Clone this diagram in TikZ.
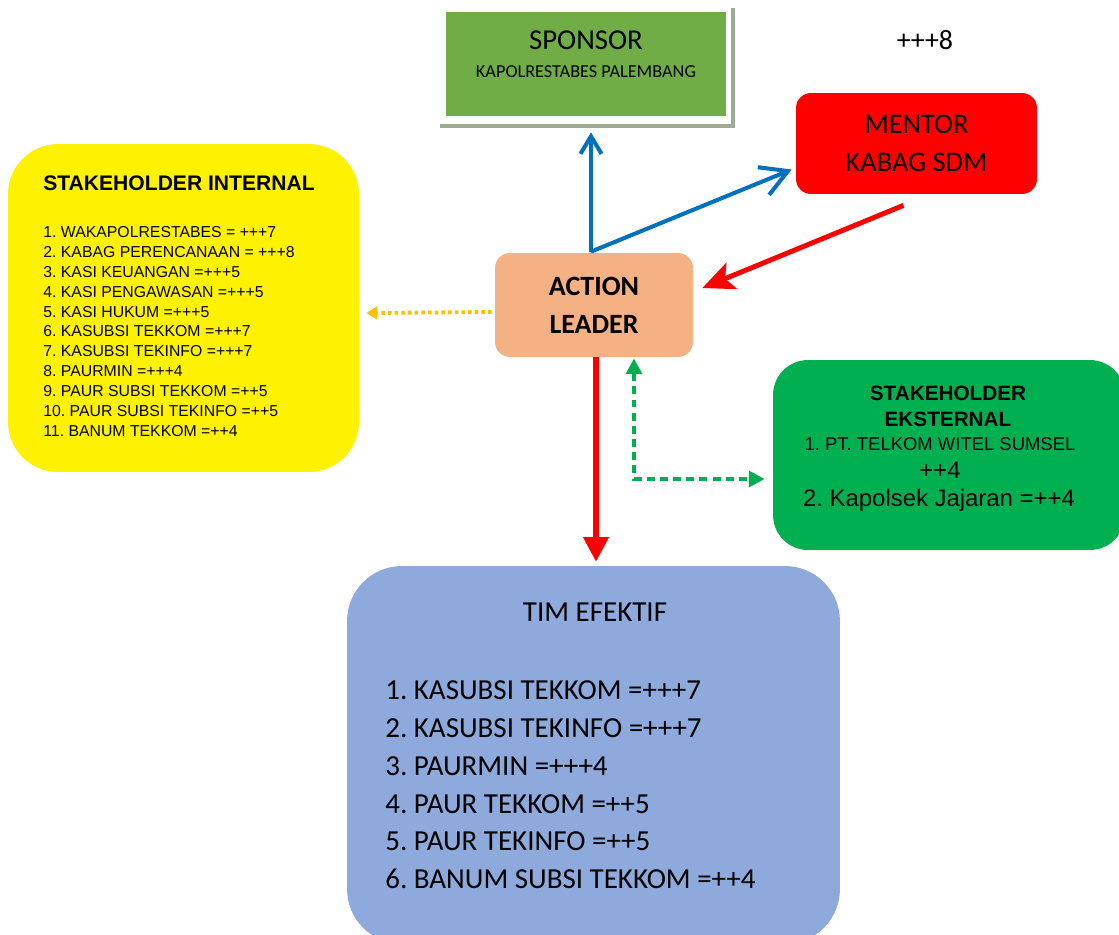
\documentclass[tikz,border=0pt]{standalone}
\usepackage{fontspec}
\setmainfont{Carlito}
\newfontfamily\arial{Liberation Sans}
\usetikzlibrary{positioning,calc,arrows.meta}
\definecolor{sponsorgreen}{HTML}{70AD47}
\definecolor{framegray}{HTML}{9EAA94}
\definecolor{leaderorange}{HTML}{F4B183}
\definecolor{ekstgreen}{HTML}{00B050}
\definecolor{timblue}{HTML}{8EA9DB}
\definecolor{arrowblue}{HTML}{0070C0}
\definecolor{dotorange}{HTML}{FFC000}
\def\fs#1#2{\fontsize{#1}{#2}\selectfont}
\frenchspacing

\begin{document}
\begin{tikzpicture}
    [x=0.02cm,y=-0.02cm,
    box/.style={
      rectangle,
      inner sep=0pt,
      align=center
    },
    txt/.style={
      inner sep=0pt,
      align=left
    },
    blueline/.style={
      draw=arrowblue,
      line width=2.3pt,
      -{Straight Barb[length=10pt,width=12pt,line width=2.3pt]}
    },
    bluebig/.style={
      draw=arrowblue,
      line width=2.3pt,
      -{Straight Barb[length=15pt,width=17pt,line width=2.3pt]}
    },
    redline/.style={
      draw=red,
      line width=3pt,
      -{Triangle[length=14pt,width=14pt]}
    },
    redbig/.style={
      draw=red,
      line width=2.8pt,
      -{Stealth[length=18pt,width=16pt,inset=4pt]}
    },
    dotline/.style={
      draw=dotorange,
      line width=2.2pt,
      dash pattern=on 2pt off 1.8pt,
      -{Triangle[length=6pt,width=7pt]}
    },
    dashline/.style={
      draw=ekstgreen,
      line width=2.2pt,
      dash pattern=on 4.5pt off 3pt,
      {Triangle[length=9pt,width=9pt]}-{Triangle[length=9pt,width=9pt]}
    }
  ]
    \useasboundingbox (0,0) rectangle (1119,934);
    % boxes
    \node[box, fill=sponsorgreen, minimum width=5.6cm, minimum height=2.08cm] (sponsor) at (586,64) {};
    \draw[framegray, line width=2.4pt] ($(sponsor.south west)+(-6,10)$) -| ($(sponsor.north east)+(7,-4)$);
    \node[font=\fs{16.4}{20}] (sponsortitle) at (586,40) {SPONSOR};
    \node[font=\fs{10.4}{12}] (sponsorname) at (586,72) {KAPOLRESTABES PALEMBANG};
    \node[font=\fs{15.9}{19}] (score) at (925,40) {+++8};
    \node[box, fill=red, rounded corners=0.3cm, minimum width=4.82cm, minimum height=2.02cm,
          font=\fs{16.2}{22}] (mentor) at (916.5,143.5) {MENTOR\\KABAG SDM};
    \node[box, fill=leaderorange, rounded corners=0.3cm, minimum width=3.96cm, minimum height=2.08cm,
          font=\fs{15.9}{21.5}\bfseries] (leader) at (594,305) {ACTION\\LEADER};
    \node[box, fill=yellow, rounded corners=1cm, minimum width=7.02cm, minimum height=6.56cm] (internal) at (183.5,308) {};
    \node[txt, anchor=west, font=\arial\fs{12}{14}\bfseries] (internaltitle) at (43,183) {STAKEHOLDER INTERNAL};
    \node[txt, anchor=west, font=\arial\fs{9}{11.3}] (internallist) at (43,331.5) {%
      1. WAKAPOLRESTABES = +++7\\
      2. KABAG PERENCANAAN = +++8\\
      3. KASI KEUANGAN =+++5\\
      4. KASI PENGAWASAN =+++5\\
      5. KASI HUKUM =+++5\\
      6. KASUBSI TEKKOM =+++7\\
      7. KASUBSI TEKINFO =+++7\\
      8. PAURMIN =+++4\\
      9. PAUR SUBSI TEKKOM =++5\\
      10. PAUR SUBSI TEKINFO =++5\\
      11. BANUM TEKKOM =++4};
    \node[box, fill=ekstgreen, rounded corners=0.7cm, minimum width=7.04cm, minimum height=3.8cm] (eksternal) at (949,455) {};
    \node[box, font=\arial\fs{11.8}{14.7}\bfseries] (eksttitle) at (948,406) {STAKEHOLDER\\EKSTERNAL};
    \node[box, font=\arial\fs{10.5}{12}] (ekstone) at (940,444) {1. PT. TELKOM WITEL SUMSEL};
    \node[box, font=\arial\fs{13.6}{16}] (ekstscore) at (940,470) {++4};
    \node[box, font=\arial\fs{13.6}{16}] (eksttwo) at (939,500) {2. Kapolsek Jajaran =++4};
    \node[box, fill=timblue, rounded corners=1.1cm, minimum width=9.86cm, minimum height=7.56cm] (tim) at (593.5,755) {};
    \node[box, font=\fs{16.5}{20}] (timtitle) at (595,612) {TIM EFEKTIF};
    \node[txt, anchor=west, font=\fs{16.5}{21.5}] (timlist) at (385,785) {%
      1. KASUBSI TEKKOM =+++7\\
      2. KASUBSI TEKINFO =+++7\\
      3. PAURMIN =+++4\\
      4. PAUR TEKKOM =++5\\
      5. PAUR TEKINFO =++5\\
      6. BANUM SUBSI TEKKOM =++4};
    % connectors
    \coordinate (fork) at ($(leader.north)+(-3,-1)$);
    \draw[blueline] (fork) -- ($(fork |- sponsor.south)+(0,16)$);
    \draw[bluebig] (fork) -- ($(mentor.west)+(-4,26)$);
    \draw[redbig] ($(mentor.south)+(-13,11)$) -- ($(leader.east)+(9,-17)$);
    \draw[redline] ($(leader.south)+(2,0)$) -- ($(leader.south |- tim.north)+(2,-4)$);
    \draw[dotline] ($(leader.west)+(-3,7)$) -- ($(leader.west -| internal.east)+(7,8)$);
    \draw[dashline] ($(leader.south)+(40,1)$) |- ($(eksternal.west)+(-8,24)$);
\end{tikzpicture}
\end{document}
